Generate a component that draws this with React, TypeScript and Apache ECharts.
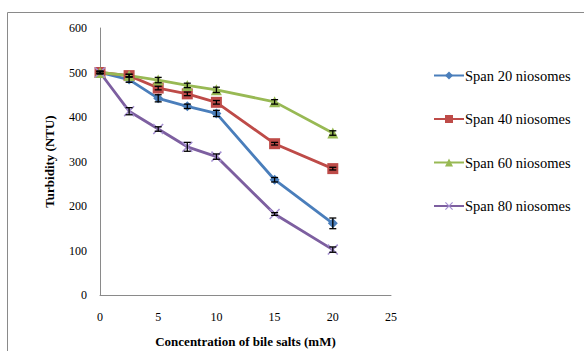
import React, { useEffect, useRef } from "react";
import * as echarts from "echarts";

const concentrations = [0, 2.5, 5, 7.5, 10, 15, 20];
const seriesNames = ["Span 20 niosomes", "Span 40 niosomes", "Span 60 niosomes", "Span 80 niosomes"];
const span20 = [500, 484, 442, 424, 408, 259, 161];
const span40 = [500, 493, 465, 452, 433, 340, 284];
const span60 = [500, 493, 483, 471, 461, 434, 364];
const span80 = [500, 413, 373, 333, 311, 182, 102];
const err20 = [3, 6, 8, 5, 7, 5, 12];
const err40 = [2, 3, 4, 4, 4, 3, 3];
const err60 = [2, 3, 6, 5, 6, 5, 5];
const err80 = [3, 8, 5, 10, 6, 3, 6];
const yTicks = [0, 100, 200, 300, 400, 500, 600];
const xTicks = [0, 5, 10, 15, 20, 25];

const FONT = "Liberation Serif";
const colors = ["#4A7EBB", "#BE4B48", "#98B954", "#7D5FA0"];
const symbols = [
  "diamond",
  "rect",
  "triangle",
  "path://M0,1L1,0L10,9L9,10Z M9,0L10,1L1,10L0,9Z",
];
const symbolSizes = [10, 11, 11, 11];
const symbolColors = ["#4A7EBB", "#BE4B48", "#98B954", "#A48FD0"];

export default function App() {
  const ref = useRef<HTMLDivElement>(null);
  useEffect(() => {
    if (!ref.current) return;
    const chart = echarts.init(ref.current, null, { renderer: "svg" });
    const values = [span20, span40, span60, span80];
    const errs = [err20, err40, err60, err80];
    const lineSeries = values.map((vals, i) => ({
      name: seriesNames[i],
      type: "line",
      data: concentrations.map((c, j) => [c, vals[j]]),
      symbol: symbols[i],
      symbolSize: symbolSizes[i],
      itemStyle: { color: symbolColors[i] },
      lineStyle: { color: colors[i], width: 2.8 },
      z: 2,
    }));
    const errSeries = values.map((vals, i) => ({
      type: "custom",
      data: concentrations.map((c, j) => [c, vals[j], errs[i][j]]),
      z: 5,
      renderItem: (params: any, api: any) => {
        const x = api.value(0);
        const y = api.value(1);
        const e = api.value(2);
        const lo = api.coord([x, y - e]);
        const hi = api.coord([x, y + e]);
        const w = 3.5;
        const st = { stroke: "#000", lineWidth: 1.3 };
        return {
          type: "group",
          children: [
            { type: "line", shape: { x1: lo[0], y1: lo[1], x2: hi[0], y2: hi[1] }, style: st },
            { type: "line", shape: { x1: lo[0] - w, y1: lo[1], x2: lo[0] + w, y2: lo[1] }, style: st },
            { type: "line", shape: { x1: hi[0] - w, y1: hi[1], x2: hi[0] + w, y2: hi[1] }, style: st },
          ],
        };
      },
    }));
    chart.setOption({
      animation: false,
      textStyle: { fontFamily: FONT },
      grid: { left: 100, right: 193, top: 28, bottom: 56, outerBoundsMode: "none", containLabel: false },
      legend: {
        data: seriesNames,
        orient: "vertical",
        left: 433,
        top: 68,
        padding: 0,
        itemWidth: 30,
        itemHeight: 10,
        itemGap: 28.5,
        textStyle: { fontFamily: FONT, fontSize: 14.5, color: "#000", padding: [0, 0, 0, -4] },
      },
      graphic: [
        {
          type: "rect",
          shape: { x: 7.5, y: 12.5, width: 700, height: 500 },
          style: { fill: "none", stroke: "#8a8a8a", lineWidth: 1 },
          silent: true,
          z: -1,
        },
      ],
      xAxis: {
        type: "value",
        min: xTicks[0],
        max: xTicks[xTicks.length - 1],
        interval: 5,
        name: "Concentration of bile salts (mM)",
        nameLocation: "middle",
        nameGap: 40,
        nameTextStyle: { fontFamily: FONT, fontSize: 13, fontWeight: "bold", color: "#000" },
        axisLine: { lineStyle: { color: "#8a8a8a", width: 1 } },
        axisTick: { show: false },
        axisLabel: { fontFamily: FONT, fontSize: 12, color: "#000", margin: 16 },
        splitLine: { show: false },
      },
      yAxis: {
        type: "value",
        min: yTicks[0],
        max: yTicks[yTicks.length - 1],
        interval: 100,
        name: "Turbidity (NTU)",
        nameLocation: "middle",
        nameGap: 44,
        nameTextStyle: { fontFamily: FONT, fontSize: 13, fontWeight: "bold", color: "#000" },
        axisLine: { show: true, lineStyle: { color: "#8a8a8a", width: 1 } },
        axisTick: { show: false },
        axisLabel: { fontFamily: FONT, fontSize: 12, color: "#000", margin: 13 },
        splitLine: { show: false },
      },
      series: [...lineSeries, ...errSeries],
    });
    return () => chart.dispose();
  }, []);
  return (
    <div
      ref={ref}
      style={{ position: "fixed", left: 0, top: 0, width: 584, height: 351, background: "#fff" }}
    />
  );
}
